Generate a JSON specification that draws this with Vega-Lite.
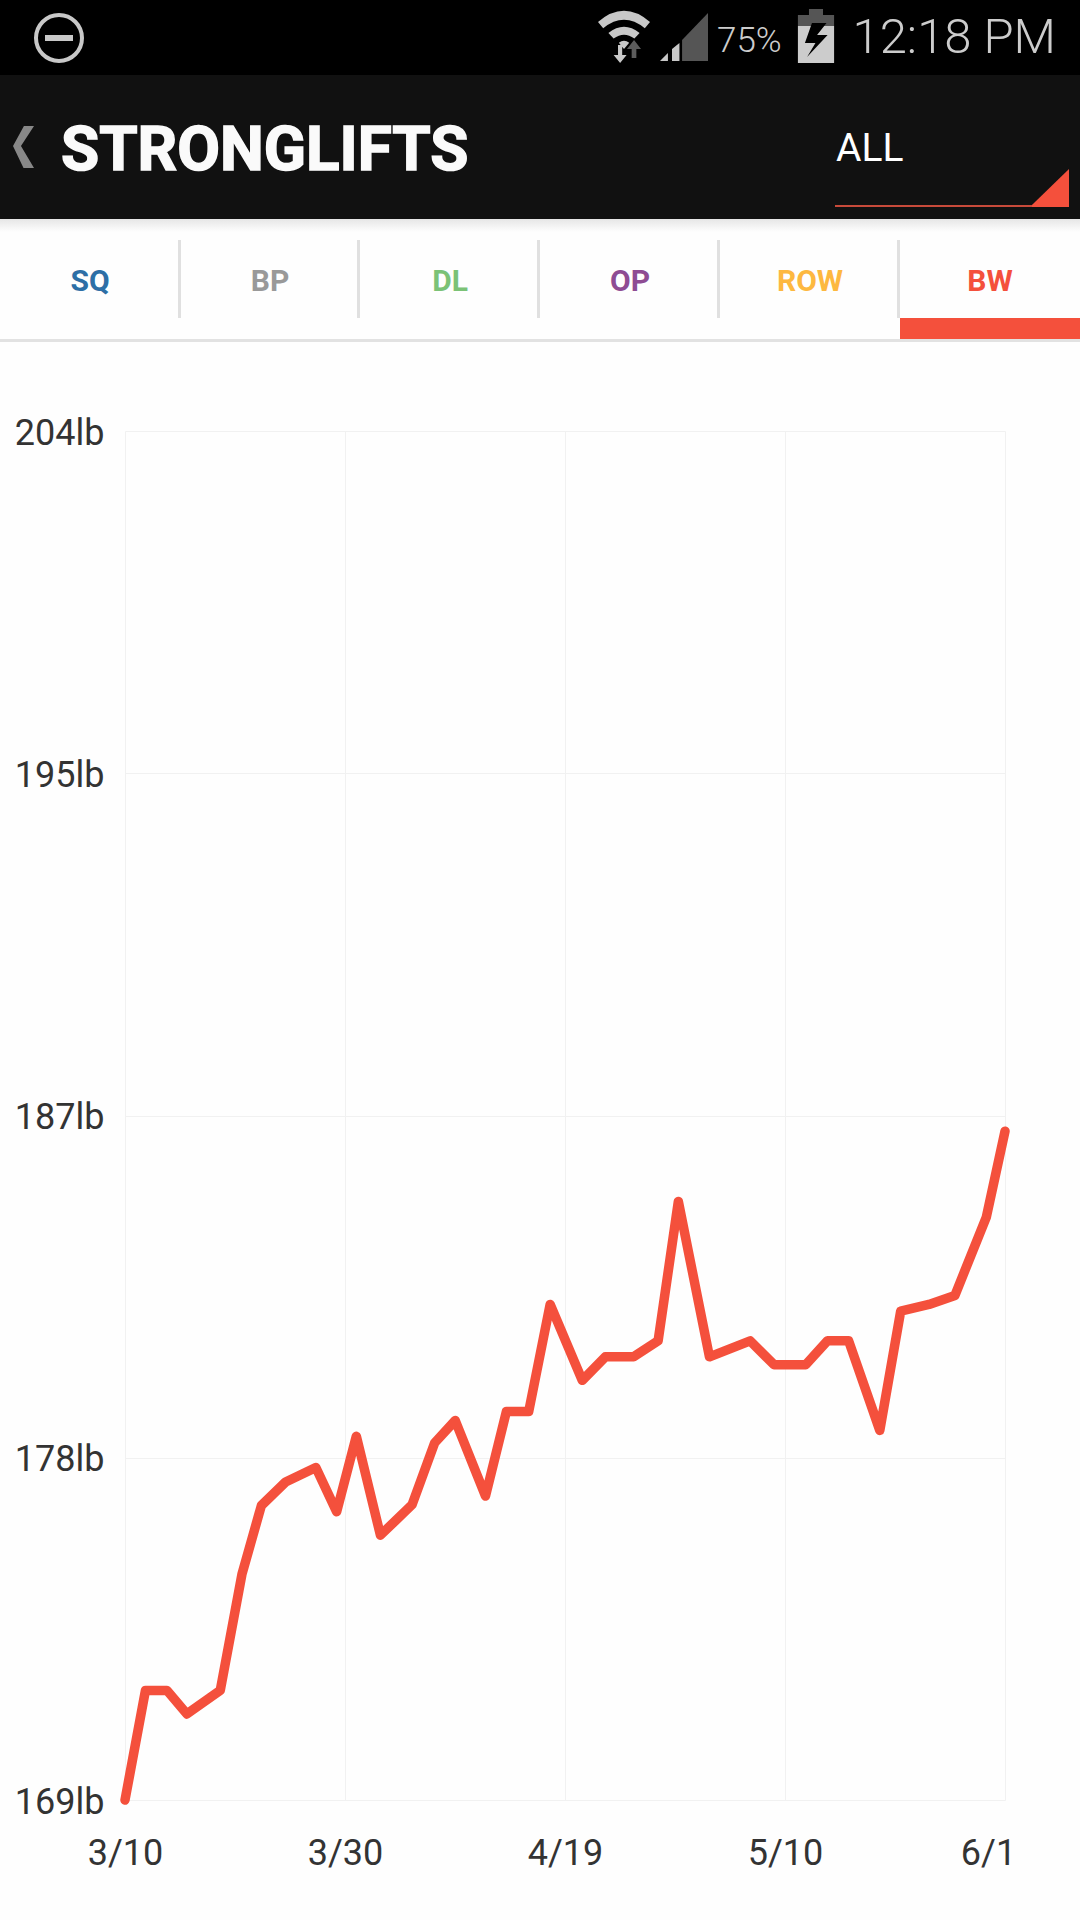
{"$schema":"https://vega.github.io/schema/vega-lite/v6.json","autosize":{"type":"none"},"padding":{"left":125,"top":431,"right":75,"bottom":120},"width":880,"height":1369,"background":"#fefefe","view":{"stroke":null},"resolve":{"scale":{"x":"independent","y":"independent"}},"layer":[{"data":{"values":[{"date":"3/10","day":0,"weight":169},{"date":"3/11","day":1.86,"weight":171.8},{"date":"3/13","day":3.82,"weight":171.8},{"date":"3/15","day":5.63,"weight":171.2},{"date":"3/18","day":8.66,"weight":171.8},{"date":"3/20","day":10.63,"weight":174.77},{"date":"3/22","day":12.4,"weight":176.53},{"date":"3/24","day":14.6,"weight":177.13},{"date":"3/27","day":17.35,"weight":177.5},{"date":"3/29","day":19.24,"weight":176.37},{"date":"3/31","day":21.03,"weight":178.3},{"date":"4/2","day":23.22,"weight":175.77},{"date":"4/5","day":26.1,"weight":176.55},{"date":"4/7","day":28.15,"weight":178.13},{"date":"4/9","day":30.02,"weight":178.7},{"date":"4/11","day":32.77,"weight":176.77},{"date":"4/13","day":34.67,"weight":178.93},{"date":"4/15","day":36.7,"weight":178.93},{"date":"4/17","day":38.65,"weight":181.67},{"date":"4/20","day":41.65,"weight":179.73},{"date":"4/22","day":43.85,"weight":180.33},{"date":"4/25","day":46.55,"weight":180.33},{"date":"4/27","day":48.89,"weight":180.74},{"date":"4/29","day":50.82,"weight":184.3},{"date":"5/2","day":53.79,"weight":180.33},{"date":"5/6","day":57.67,"weight":180.74},{"date":"5/8","day":59.95,"weight":180.13},{"date":"5/12","day":63.08,"weight":180.13},{"date":"5/14","day":65.25,"weight":180.74},{"date":"5/16","day":67.36,"weight":180.74},{"date":"5/19","day":70.48,"weight":178.45},{"date":"5/21","day":72.57,"weight":181.5},{"date":"5/24","day":75.4,"weight":181.67},{"date":"5/27","day":77.99,"weight":181.9},{"date":"5/30","day":81.13,"weight":183.9},{"date":"6/1","day":83,"weight":186.1}]},"mark":{"type":"line","color":"#f4503c","strokeWidth":9.5,"strokeCap":"round","strokeJoin":"round"},"encoding":{"x":{"field":"day","type":"quantitative","title":null,"scale":{"domain":[0,20,40,61,83],"range":[0,220,440,660,880],"nice":false,"zero":false},"axis":{"values":[0,20,40,61,83],"labelExpr":"{'0':'3/10','20':'3/30','40':'4/19','61':'5/10','83':'6/1'}[datum.value]","grid":true,"gridColor":"#f1f1f1","gridWidth":1,"domain":false,"ticks":false,"labelFont":"Roboto","labelFontSize":36,"labelColor":"#333333","labelPadding":36,"labelAngle":0,"labelOverlap":false,"labelBound":false,"labelFlush":false,"labelOffset":{"expr":"datum.value==83 ? -17 : 0"}}},"y":{"field":"weight","type":"quantitative","title":null,"scale":{"domain":[169,204],"nice":false,"zero":false},"axis":{"values":[169,177.75,186.5,195.25,204],"labelExpr":"format(datum.value,'.0f')+'lb'","grid":true,"gridColor":"#f1f1f1","gridWidth":1,"domain":false,"ticks":false,"labelFont":"Roboto","labelFontSize":36,"labelColor":"#333333","labelPadding":21,"labelOffset":2,"labelOverlap":false,"labelBound":false,"labelFlush":false}}}},{"encoding":{"x":{"field":"x","type":"quantitative","axis":null,"scale":{"domain":[0,1080],"range":[-125,955],"nice":false,"zero":false}},"y":{"field":"y","type":"quantitative","axis":null,"scale":{"domain":[0,1920],"range":[-431,1489],"nice":false,"zero":false}}},"layer":[{"data":{"values":[{"part":"status bar","x":0,"x2":1080,"y":0,"y2":75},{"part":"app bar","x":0,"x2":1080,"y":75,"y2":219},{"part":"tab line","x":0,"x2":1080,"y":339,"y2":342},{"part":"divider","x":178,"x2":181,"y":240,"y2":318},{"part":"divider","x":357,"x2":360,"y":240,"y2":318},{"part":"divider","x":537,"x2":540,"y":240,"y2":318},{"part":"divider","x":717,"x2":720,"y":240,"y2":318},{"part":"divider","x":897,"x2":900,"y":240,"y2":318},{"part":"active tab","x":900,"x2":1080,"y":318,"y2":339},{"part":"select line","x":835,"x2":1034,"y":205,"y2":207},{"part":"minus","x":45,"x2":73,"y":35,"y2":41}]},"mark":{"type":"rect"},"encoding":{"x2":{"field":"x2"},"y2":{"field":"y2"},"color":{"field":"part","type":"nominal","legend":null,"scale":{"domain":["status bar","app bar","tab line","divider","active tab","select line","minus","SQ","BP","DL","OP","ROW","BW"],"range":["#000000","#111111","#e2e2e2","#e0e0e0","#f4503c","#c84a3a","#c8c8c8","#2d6fa6","#999999","#7bc276","#8e4c93","#fdb840","#f4503c"]}}}},{"data":{"values":[{"x":0,"x2":1080,"y":219,"y2":232}]},"mark":{"type":"rect","color":{"gradient":"linear","x1":0,"y1":0,"x2":0,"y2":1,"stops":[{"offset":0,"color":"#e6e6e6"},{"offset":1,"color":"#fefefe"}]}},"encoding":{"x2":{"field":"x2"},"y2":{"field":"y2"}}},{"data":{"values":[{"x":59,"y":38}]},"mark":{"type":"point","shape":"circle","size":2116,"filled":false,"color":"#c8c8c8","strokeWidth":4,"opacity":1}},{"data":{"values":[{"x":624,"y":36}]},"mark":{"type":"point","shape":"M-1 -.54Q0 -1.4 1 -.54L.8 -.3Q0 -.95 -.8 -.3ZM-.6 -.12Q0 -.6 .6 -.12L.4 .1Q0 -.2 -.4 .1ZM-.2 .26Q0 .1 .2 .26L0 .5ZM-.23 .35H-.07V.73H.1L-.15 1.04L-.4 .73H-.23Z","size":2704,"filled":true,"color":"#c8c8c8","strokeWidth":0,"opacity":1}},{"data":{"values":[{"x":624,"y":36}]},"mark":{"type":"point","shape":"M.385 .15L.655 .5H.475V.85H.295V.5H.115Z","size":2704,"filled":true,"color":"#5c5c5c","strokeWidth":0,"opacity":1}},{"data":{"values":[{"x":684,"y":37}]},"mark":{"type":"point","shape":"M-.08 .125L1 -1V1H-.08Z","size":2304,"filled":true,"color":"#555555","strokeWidth":0,"opacity":1}},{"data":{"values":[{"x":684,"y":37}]},"mark":{"type":"point","shape":"M-1 1L-.67 .67V1ZM-.5 .5L-.19 .25V1H-.5Z","size":2304,"filled":true,"color":"#c8c8c8","strokeWidth":0,"opacity":1}},{"data":{"values":[{"x":816,"y":36}]},"mark":{"type":"point","shape":"M-.26 -1H.26V-.78H.67V-.37H-.67V-.78H-.26Z","size":2916,"filled":true,"color":"#555555","strokeWidth":0,"opacity":1}},{"data":{"values":[{"x":816,"y":36}]},"mark":{"type":"point","shape":"M-.67 -.37H.67V1H-.67Z","size":2916,"filled":true,"color":"#cccccc","strokeWidth":0,"opacity":1}},{"data":{"values":[{"x":816,"y":36}]},"mark":{"type":"point","shape":"M-.15 -.48L.39 -.48L.04 -.04L.43 -.04L-.33 .78L-.02 .26L-.41 .26Z","size":2916,"filled":true,"color":"#000000","strokeWidth":0,"opacity":1}},{"data":{"values":[{"x":23.5,"y":147}]},"mark":{"type":"point","shape":"M.02 -1H.5L-.12 -.05L.5 1H0L-.5 -.05Z","size":1764,"filled":true,"color":"#888888","strokeWidth":0,"opacity":1}},{"data":{"values":[{"x":1050,"y":188}]},"mark":{"type":"point","shape":"M-.95 .9L1 -1V1H-.95Z","size":1444,"filled":true,"color":"#f4503c","strokeWidth":0,"opacity":1}},{"data":{"values":[{"x":61,"y":170,"label":"STRONGLIFTS"}]},"mark":{"type":"text","font":"Roboto","fontWeight":"bold","fontSize":62,"align":"left","baseline":"alphabetic","color":"#fafafa","stroke":"#fafafa","strokeWidth":1.5},"encoding":{"text":{"field":"label"}}},{"data":{"values":[{"x":836,"y":161,"label":"ALL"}]},"mark":{"type":"text","font":"Roboto","fontWeight":400,"fontSize":39,"align":"left","baseline":"alphabetic","color":"#ffffff"},"encoding":{"text":{"field":"label"}}},{"data":{"values":[{"x":1056,"y":53,"label":"12:18 PM"}]},"mark":{"type":"text","font":"Roboto","fontWeight":300,"fontSize":49,"align":"right","baseline":"alphabetic","color":"#cccccc"},"encoding":{"text":{"field":"label"}}},{"data":{"values":[{"x":717,"y":52,"label":"75%"}]},"mark":{"type":"text","font":"Roboto","fontWeight":300,"fontSize":35,"align":"left","baseline":"alphabetic","color":"#cccccc"},"encoding":{"text":{"field":"label"}}},{"data":{"values":[{"x":90,"y":291,"part":"SQ"},{"x":270,"y":291,"part":"BP"},{"x":450,"y":291,"part":"DL"},{"x":630,"y":291,"part":"OP"},{"x":810,"y":291,"part":"ROW"},{"x":990,"y":291,"part":"BW"}]},"mark":{"type":"text","font":"Roboto","fontWeight":"bold","fontSize":30,"align":"center","baseline":"alphabetic"},"encoding":{"text":{"field":"part"},"color":{"field":"part","type":"nominal","legend":null,"scale":{"domain":["status bar","app bar","tab line","divider","active tab","select line","minus","SQ","BP","DL","OP","ROW","BW"],"range":["#000000","#111111","#e2e2e2","#e0e0e0","#f4503c","#c84a3a","#c8c8c8","#2d6fa6","#999999","#7bc276","#8e4c93","#fdb840","#f4503c"]}}}}]}]}
